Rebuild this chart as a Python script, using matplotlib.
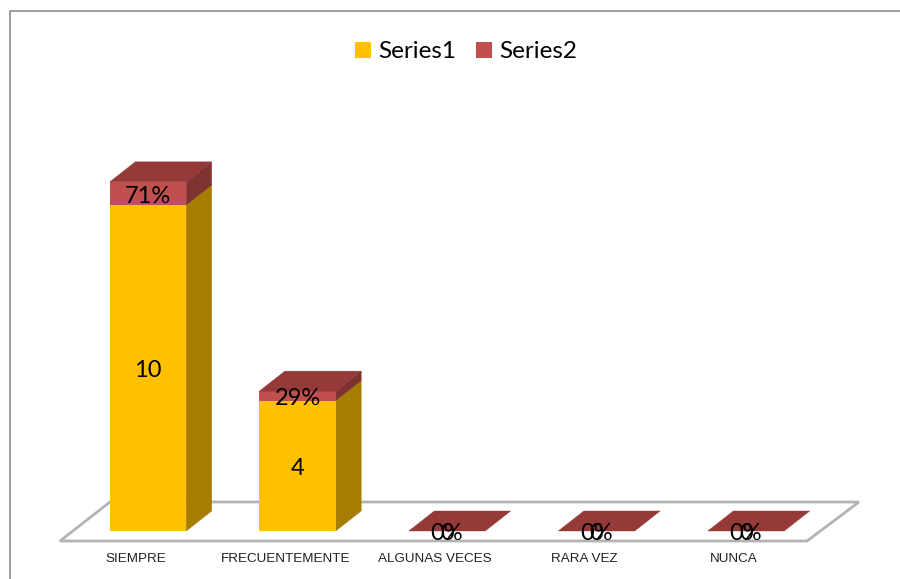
## BAR CHART WITH HAND BUILT 3D LOOK
import numpy as np
import matplotlib.pyplot as plt
from matplotlib.patches import Patch, Polygon

## DATA
categories = ['SIEMPRE', 'FRECUENTEMENTE', 'ALGUNAS VECES', 'RARA VEZ', 'NUNCA']
series1 = [10, 4, 0, 0, 0]
series2 = [0.71, 0.29, 0, 0, 0]
series2_labels = ['71%', '29%', '0%', '0%', '0%']

## COLORS
yellow = '#FFC000'
yellow_side = '#A67D00'
red = '#C0504D'
red_side = '#7F3331'
red_top = '#953A38'
floor_edge = '#B3B3B3'
border = '#8A8A8A'

W, H = 900, 579
x_step = 149.5    ## PIXELS PER CATEGORY
y_step = 32.6     ## PIXELS PER UNIT
x0_px, y0_px = 148, 531

plt.rcParams['font.family'] = ['Lato', 'DejaVu Sans']
fig = plt.figure(figsize = (W / 100, H / 100), dpi = 100)
ax = fig.add_axes([0, 0, 1, 1])
ax.set_xlim(-x0_px / x_step, (W - x0_px) / x_step)
ax.set_ylim(-(H - y0_px) / y_step, y0_px / y_step)
ax.axis('off')

## BAR SIZE AND DEPTH IN DATA UNITS
half_w = 38.2 / x_step
depth_x = 25.5 / x_step
depth_y = 20 / y_step
label_shift = 3 / y_step    ## TEXT SITS A LITTLE LOWER THAN THE SEGMENT CENTRE

def face(pts, color, z):
    ax.add_patch(Polygon(pts, closed = True, facecolor = color, edgecolor = color, linewidth = 0.3, zorder = z))

## FLOOR
fl = -10 / y_step
fb = 29 / y_step
floor = [(-88 / x_step, fl), (659 / x_step, fl), (711 / x_step, fb), (-38 / x_step, fb)]
ax.add_patch(Polygon(floor, closed = True, facecolor = 'white', edgecolor = floor_edge, linewidth = 2, zorder = 1))

## BARS, BACK FACES FIRST SO FRONT ONES SIT ON TOP
for i, (a, b) in enumerate(zip(series1, series2)):
    l, r = i - half_w, i + half_w
    top = a + b
    if top > 0:
        face([(r, 0), (r + depth_x, depth_y), (r + depth_x, a + depth_y), (r, a)], yellow_side, 2)
        face([(r, a), (r + depth_x, a + depth_y), (r + depth_x, top + depth_y), (r, top)], red_side, 2)
        ax.bar(i, a, width = 2 * half_w, color = yellow, zorder = 3)
        ax.bar(i, b, bottom = a, width = 2 * half_w, color = red, zorder = 3)
    face([(l, top), (r, top), (r + depth_x, top + depth_y), (l + depth_x, top + depth_y)], red_top, 3)

    ## VALUE LABELS
    ax.text(i, a / 2 - label_shift, str(a), ha = 'center', va = 'center', fontsize = 17, color = 'black', zorder = 5)
    ax.text(i, a + b / 2 - label_shift, series2_labels[i], ha = 'center', va = 'center', fontsize = 17, color = 'black', zorder = 5)

    ## CATEGORY LABELS
    ax.text(i - 12 / x_step, -28 / y_step, categories[i], ha = 'center', va = 'center', fontsize = 9.7,
            family = ['Liberation Sans'], color = '#222222', zorder = 5)

## CHART BORDER, ONLY TOP AND LEFT SHOW
ax.plot([10 / W, 10 / W, 1], [0, 1 - 11 / H, 1 - 11 / H], transform = ax.transAxes, color = border, linewidth = 1.2, zorder = 6)

## LEGEND
handles = [Patch(facecolor = yellow, label = 'Series1'), Patch(facecolor = red, label = 'Series2')]
fig.legend(handles = handles, loc = 'center', bbox_to_anchor = (466 / W, 1 - 52 / H), ncol = 2, frameon = False,
           fontsize = 17.5, handlelength = 0.65, handleheight = 0.65, handletextpad = 0.3, columnspacing = 0.8)

fig.savefig('out.png', dpi = 100)
